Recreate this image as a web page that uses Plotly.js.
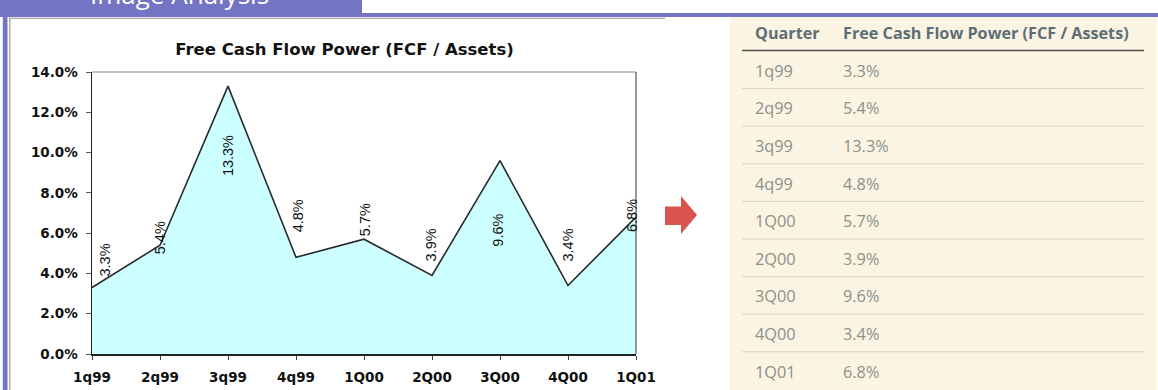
<!DOCTYPE html>
<html>
<head>
<meta charset="utf-8">
<script src="https://cdn.plot.ly/plotly-3.0.1.min.js"></script>
<style>
  html, body { margin: 0; padding: 0; background: #ffffff; }
  #chart { width: 1158px; height: 390px; }
</style>
</head>
<body>
<div id="chart"></div>
<script>
// ---------- data ----------
const chartTitle = 'Free Cash Flow Power (FCF / Assets)';
const quarters = ['1q99', '2q99', '3q99', '4q99', '1Q00', '2Q00', '3Q00', '4Q00', '1Q01'];
const fcfPower = [3.3, 5.4, 13.3, 4.8, 5.7, 3.9, 9.6, 3.4, 6.8];
const yTickValues = [0, 2, 4, 6, 8, 10, 12, 14];
const yTickLabels = ['0.0%', '2.0%', '4.0%', '6.0%', '8.0%', '10.0%', '12.0%', '14.0%'];
const tableHeaders = ['Quarter', chartTitle];
const headerText = 'Image Analysis';

// ---------- label offsets (styling, px) ----------
const labelYShift = [27, 7, -70, 41, 19, 30, -70, 40, 1];
const labelXShift = [13, 0, 0, 2, 1, -1, -2, 0, -4];

// ---------- geometry helpers (plot area in px) ----------
const W = 1158, H = 390;
const PL = 92, PR = 636, PT = 72, PB = 354;
const px = v => (v - PL) / (PR - PL);
const py = v => (PB - v) / (PB - PT);

const purple = '#7474C4';
const shapes = [];
const annotations = [];

function rectPx(x0, y0, x1, y1, color, layer) {
  shapes.push({type: 'rect', xref: 'paper', yref: 'paper',
    x0: px(x0), x1: px(x1), y0: py(y1), y1: py(y0),
    fillcolor: color, line: {width: 0}, layer: layer || 'below'});
}
function linePx(x0, y0, x1, y1, color, width, layer) {
  shapes.push({type: 'line', xref: 'paper', yref: 'paper',
    x0: px(x0), x1: px(x1), y0: py(y0), y1: py(y1),
    line: {color: color, width: width}, layer: layer || 'above'});
}

// page decoration: purple header, left bar, frame
rectPx(0, 0, 362, 13.5, purple);
rectPx(0, 13, W, 17, purple);
rectPx(2.8, 13, 7.5, H, purple);
linePx(9, 18.3, 665, 18.3, '#a3a3a3', 1.3, 'below');
linePx(9.8, 18, 9.8, H, '#a3a3a3', 1.3, 'below');

// plot border (top & right)
linePx(PL, PT, PR, PT, '#8a8a8a', 1.2);
linePx(PR, PT, PR, PB, '#555555', 1.2);

// arrow
shapes.push({type: 'path', xref: 'paper', yref: 'paper',
  path: 'M ' + [[665, 206.5], [681, 206.5], [681, 196], [697, 215], [681, 234], [681, 225], [665, 225]]
    .map(p => px(p[0]) + ',' + py(p[1])).join(' L ') + ' Z',
  fillcolor: '#D9534F', line: {width: 0}, layer: 'above'});

// table background and lines
rectPx(730, 17, 1157, H, '#FBF4E2');
linePx(742, 50.5, 1144, 50.5, '#4d4d4d', 1.5);
const rowTop = 70.8, rowPitch = 37.6;
for (let i = 0; i < quarters.length - 1; i++) {
  const y = rowTop + rowPitch * i + 17.8;
  linePx(742, y, 1144, y, '#DAD4C5', 1);
}

// header text (cut off at top, as in the source)
annotations.push({xref: 'paper', yref: 'paper', x: px(88), y: py(14.5), xanchor: 'left', yanchor: 'bottom',
  text: headerText, showarrow: false, font: {family: 'Open Sans', size: 26, color: '#ffffff'}});

// table header
const colX = [755, 843];
tableHeaders.forEach((t, j) => annotations.push({xref: 'paper', yref: 'paper',
  x: px(colX[j] - 2), y: py(32.7), xanchor: 'left', yanchor: 'middle', text: t, showarrow: false,
  font: {family: 'Open Sans', size: 16.2, weight: 'bold', color: '#5E6E76'}}));

// table rows
quarters.forEach((q, i) => {
  const yc = rowTop + rowPitch * i;
  [q, fcfPower[i].toFixed(1) + '%'].forEach((t, j) => annotations.push({xref: 'paper', yref: 'paper',
    x: px(colX[j] - 2), y: py(yc), xanchor: 'left', yanchor: 'middle', text: t, showarrow: false,
    font: {family: 'Open Sans', size: 16.3, color: '#8C918B'}}));
});

// data labels on the chart
quarters.forEach((q, i) => annotations.push({xref: 'x', yref: 'y', x: q, y: fcfPower[i],
  text: fcfPower[i].toFixed(1) + '%', showarrow: false, textangle: -90,
  xanchor: 'center', yanchor: 'middle', xshift: labelXShift[i], yshift: labelYShift[i],
  font: {family: 'Liberation Sans', size: 14.5, color: '#111111'}}));

const trace = {
  type: 'scatter', mode: 'lines', x: quarters, y: fcfPower,
  fill: 'tozeroy', fillcolor: '#CCFFFF',
  line: {color: '#2a2a2a', width: 1.6},
  hoverinfo: 'x+y', cliponaxis: false
};

const layout = {
  width: W, height: H,
  margin: {l: PL, r: W - PR, t: PT, b: H - PB, pad: 0},
  paper_bgcolor: '#ffffff', plot_bgcolor: '#ffffff',
  showlegend: false,
  title: {text: chartTitle, xref: 'container', yref: 'container', x: 344.5 / W, y: 1 - 49 / H,
    xanchor: 'center', yanchor: 'middle',
    font: {family: 'DejaVu Sans', size: 16.5, weight: 'bold', color: '#111111'}},
  xaxis: {type: 'category', range: [0, quarters.length - 1], showgrid: false, zeroline: false,
    showline: true, linecolor: '#222222', linewidth: 1.5, ticks: 'outside', ticklen: 4,
    tickcolor: '#444444', tickwidth: 1, fixedrange: true, ticklabelstandoff: 6,
    tickfont: {family: 'DejaVu Sans', size: 13.5, weight: 'bold', color: '#111111'}},
  yaxis: {range: [0, 14], tickmode: 'array', tickvals: yTickValues, ticktext: yTickLabels,
    showgrid: false, zeroline: false, showline: true, linecolor: '#222222', linewidth: 1.5,
    ticks: 'outside', ticklen: 5, tickcolor: '#555555', tickwidth: 1, fixedrange: true,
    ticklabelstandoff: 5,
    tickfont: {family: 'DejaVu Sans', size: 13.5, weight: 'bold', color: '#111111'}},
  shapes: shapes,
  annotations: annotations
};

Plotly.newPlot('chart', [trace], layout, {displayModeBar: false, staticPlot: true});
</script>
</body>
</html>
